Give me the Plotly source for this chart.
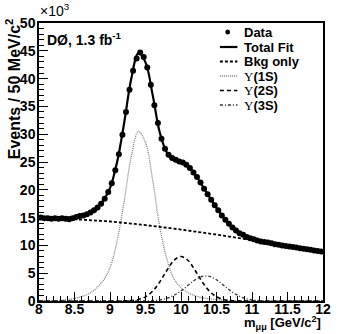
import numpy as np
import plotly.graph_objects as go

# Dimuon invariant mass spectrum, 50 MeV/c^2 bins, counts in units of 10^3
bin_centers = np.round(np.arange(8.025, 12.0, 0.05), 3)
events = [
    15.0, 14.9, 14.9, 14.8, 14.9, 14.8, 14.9, 14.8, 14.7, 14.9,
    15.1, 15.3, 15.4, 15.6, 15.9, 16.3, 16.8, 17.5, 18.4, 19.6,
    21.2, 23.5, 26.4, 29.9, 34.0, 38.0, 41.4, 43.6, 44.7, 43.9,
    42.0, 38.9, 35.2, 32.0, 29.2, 27.4, 26.3, 25.7, 25.4, 25.1,
    24.9, 24.5, 23.9, 23.1, 22.3, 21.3, 20.2, 19.2, 18.2, 17.2,
    16.3, 15.4, 14.6, 13.9, 13.2, 12.7, 12.2, 11.9, 11.5, 11.3,
    11.1, 10.9, 10.7, 10.6, 10.5, 10.4, 10.2, 10.1, 10.0, 9.9,
    9.8, 9.7, 9.6, 9.5, 9.4, 9.3, 9.2, 9.1, 9.0, 8.9,
]

# Fit components sampled every 0.1 GeV/c^2 from 8.0 to 12.0
fit_mass = np.round(np.linspace(8.0, 12.0, 41), 2)
bkg = [
    14.80, 14.80, 14.79, 14.76, 14.73, 14.70, 14.63, 14.55, 14.47, 14.39,
    14.30, 14.18, 14.05, 13.92, 13.79, 13.65, 13.49, 13.33, 13.17, 13.01,
    12.85, 12.67, 12.49, 12.31, 12.13, 11.95, 11.75, 11.55, 11.35, 11.15,
    10.95, 10.75, 10.55, 10.35, 10.15, 9.95, 9.74, 9.53, 9.32, 9.11, 8.90,
]
ups1s = [
    0.0, 0.0, 0.05, 0.12, 0.25, 0.45, 0.8, 1.3, 2.2, 3.6,
    6.0, 10.8, 18.0, 26.0, 30.5, 28.5, 21.8, 13.4, 7.6, 4.0,
    2.4, 1.5, 0.95, 0.6, 0.4, 0.25, 0.15, 0.08, 0.04, 0.02,
    0.0, 0.0, 0.0, 0.0, 0.0, 0.0, 0.0, 0.0, 0.0, 0.0, 0.0,
]
ups2s = [
    0.0, 0.0, 0.0, 0.0, 0.0, 0.0, 0.0, 0.0, 0.0, 0.0,
    0.0, 0.0, 0.02, 0.08, 0.27, 0.75, 1.76, 3.42, 5.48, 7.28,
    8.0, 7.28, 5.48, 3.42, 1.76, 0.75, 0.27, 0.08, 0.02, 0.0,
    0.0, 0.0, 0.0, 0.0, 0.0, 0.0, 0.0, 0.0, 0.0, 0.0, 0.0,
]
ups3s = [
    0.0, 0.0, 0.0, 0.0, 0.0, 0.0, 0.0, 0.0, 0.0, 0.0,
    0.0, 0.0, 0.0, 0.0, 0.0, 0.02, 0.07, 0.2, 0.48, 1.01,
    1.82, 2.83, 3.81, 4.42, 4.42, 3.81, 2.83, 1.82, 1.01, 0.48,
    0.2, 0.07, 0.02, 0.0, 0.0, 0.0, 0.0, 0.0, 0.0, 0.0, 0.0,
]
total_fit = np.array(bkg) + np.array(ups1s) + np.array(ups2s) + np.array(ups3s)

x_ticks = [8, 8.5, 9, 9.5, 10, 10.5, 11, 11.5, 12]
x_labels = ["8", "8.5", "9", "9.5", "10", "10.5", "11", "11.5", "12"]
y_ticks = [0, 5, 10, 15, 20, 25, 30, 35, 40, 45, 50]
y_labels = ["0", "5", "10", "15", "20", "25", "30", "35", "40", "45", "50"]

W, H = 340, 334
ML, MR, MT, MB = 39, 9, 23, 33
PW, PH = W - ML - MR, H - MT - MB


def px(x):
    return (x - ML) / PW


def py(y):
    return (H - MB - y) / PH


SANS = "Liberation Sans"
SERIF = "Liberation Serif"

styles = {
    "bkg": dict(color="black", width=1.8, dash="3px,2px"),
    "1s": dict(color="#808080", width=1.3, dash="1px,1px"),
    "2s": dict(color="black", width=1.6, dash="4px,3px"),
    "3s": dict(color="#333333", width=1.3, dash="3px,2px,1px,2px"),
    "total": dict(color="black", width=2.2),
}

fig = go.Figure()
fig.add_trace(go.Scatter(x=fit_mass, y=ups1s, mode="lines", line=styles["1s"], line_shape="spline"))
fig.add_trace(go.Scatter(x=fit_mass, y=ups2s, mode="lines", line=styles["2s"], line_shape="spline"))
fig.add_trace(go.Scatter(x=fit_mass, y=ups3s, mode="lines", line=styles["3s"], line_shape="spline"))
fig.add_trace(go.Scatter(x=fit_mass, y=bkg, mode="lines", line=styles["bkg"], line_shape="spline"))
fig.add_trace(go.Scatter(x=fit_mass, y=total_fit, mode="lines", line=styles["total"], line_shape="spline"))
fig.add_trace(go.Scatter(x=bin_centers, y=events, mode="markers",
                         marker=dict(color="black", size=6, line=dict(width=0))))

tickfont = dict(family=SANS, size=14, color="black")
axis_common = dict(showline=True, linecolor="black", linewidth=1.5, mirror=True,
                   ticks="inside", ticklen=9, tickwidth=1, tickcolor="black",
                   showgrid=False, zeroline=False, tickfont=tickfont)

fig.update_layout(
    width=W, height=H,
    margin=dict(l=ML, r=MR, t=MT, b=MB, pad=0),
    paper_bgcolor="white", plot_bgcolor="white",
    showlegend=False,
    xaxis=dict(range=[8, 12], tickmode="array", tickvals=x_ticks,
               ticktext=[f"<b>{t}</b>" for t in x_labels], ticklabelstandoff=-6,
               minor=dict(ticks="inside", ticklen=5, tickwidth=1, tickcolor="black",
                          tick0=8, dtick=0.1, showgrid=False),
               **axis_common),
    yaxis=dict(range=[0, 50], tickmode="array", tickvals=y_ticks,
               ticktext=[f"<b>{t}</b>" for t in y_labels], ticklabelstandoff=-1,
               minor=dict(ticks="inside", ticklen=5, tickwidth=1, tickcolor="black",
                          tick0=0, dtick=1, showgrid=False),
               **axis_common),
)

annotations = [
    dict(text="×10<sup>3</sup>", x=px(38), y=py(21), xanchor="left", yanchor="bottom",
         font=dict(family=SANS, size=14, color="black")),
    dict(text="DØ, 1.3 fb<sup>-1</sup>", x=px(45), y=py(39), xanchor="left", yanchor="middle",
         font=dict(family=SANS, size=14, color="black", weight="bold")),
    dict(text="Events / 50 MeV/c<sup>2</sup>", textangle=-90, x=px(13), y=py(16),
         xanchor="center", yanchor="top",
         font=dict(family=SANS, size=16, color="black", weight="bold")),
    dict(text="m<sub>μμ</sub> [GeV/c<sup>2</sup>]", x=px(331), y=py(334),
         xanchor="right", yanchor="bottom",
         font=dict(family=SANS, size=13, color="black", weight="bold")),
]

# Legend drawn in paper space
legend_rows = [
    ("Data", None, 32),
    ("Total Fit", "total", 47),
    ("Bkg only", "bkg", 61.5),
    (f'<span style="font-family:{SERIF};font-weight:normal">Υ</span>(1S)', "1s", 76),
    (f'<span style="font-family:{SERIF};font-weight:normal">Υ</span>(2S)', "2s", 90.5),
    (f'<span style="font-family:{SERIF};font-weight:normal">Υ</span>(3S)', "3s", 105),
]
shapes = []
for label, key, yrow in legend_rows:
    annotations.append(dict(text=label, x=px(248), y=py(yrow), xanchor="left", yanchor="middle",
                            font=dict(family=SANS, size=13, color="black", weight="bold")))
    if key is None:
        shapes.append(dict(type="circle", xref="paper", yref="paper",
                           x0=px(230.5), x1=px(235.5), y0=py(yrow + 2.5), y1=py(yrow - 2.5),
                           fillcolor="black", line=dict(width=0)))
    else:
        st = styles[key]
        shapes.append(dict(type="line", xref="paper", yref="paper",
                           x0=px(225), x1=px(243), y0=py(yrow), y1=py(yrow),
                           line=dict(color=st["color"], width=st["width"], dash=st.get("dash", "solid"))))

for a in annotations:
    a.setdefault("xref", "paper")
    a.setdefault("yref", "paper")
    a.setdefault("showarrow", False)

fig.update_layout(annotations=annotations, shapes=shapes)
fig.write_html("out.html")
